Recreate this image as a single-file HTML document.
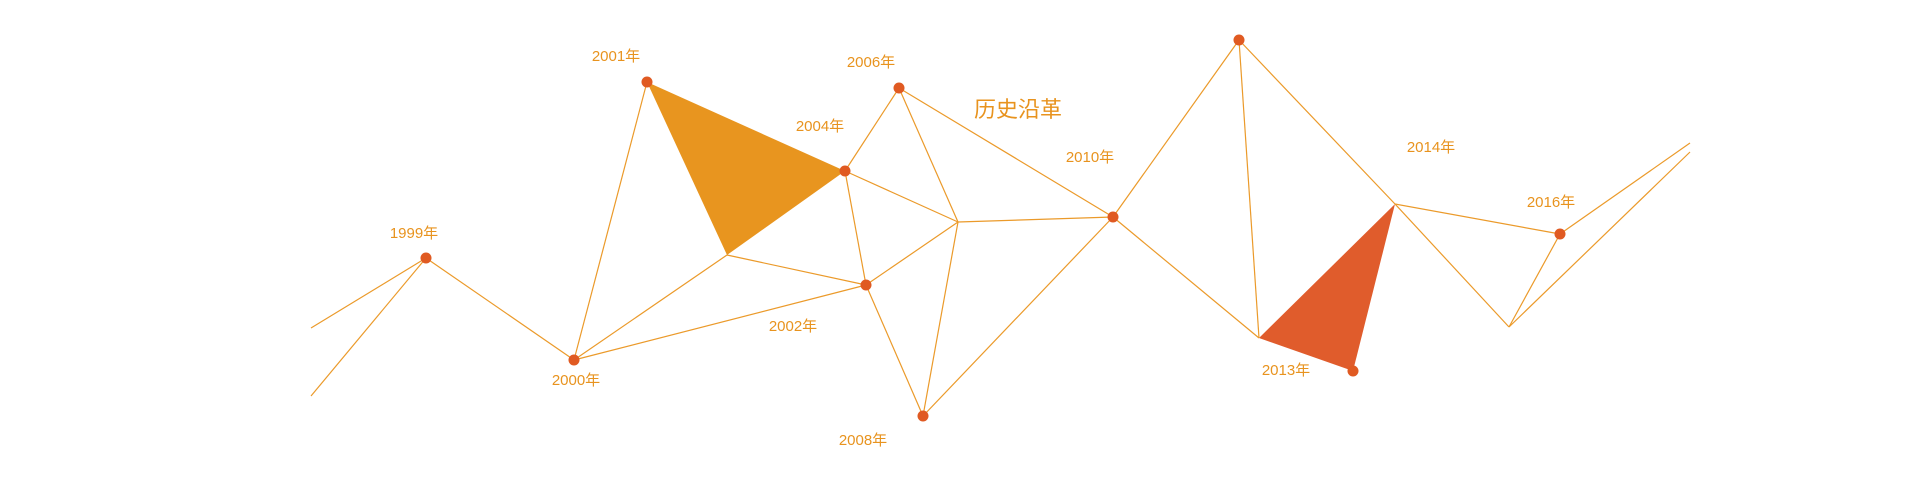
<!DOCTYPE html>
<html><head><meta charset="utf-8"><style>
html,body{margin:0;padding:0;background:#fff;}
svg{display:block}
text{font-family:"Liberation Sans","Noto Sans CJK SC",sans-serif;fill:#e8931e;}
</style></head><body>
<svg width="1920" height="491" viewBox="0 0 1920 491" xmlns="http://www.w3.org/2000/svg">
<polygon points="647,82 845,171 727,255" fill="#e8951f"/>
<polygon points="1259,338 1395,204 1353,371" fill="#e05c2c"/>
<g stroke="#eb9a2a" stroke-width="1.2" fill="none">
<line x1="311" y1="328" x2="426" y2="258"/>
<line x1="311" y1="396" x2="426" y2="258"/>
<line x1="426" y1="258" x2="574" y2="360"/>
<line x1="574" y1="360" x2="647" y2="82"/>
<line x1="574" y1="360" x2="727" y2="255"/>
<line x1="574" y1="360" x2="866" y2="285"/>
<line x1="727" y1="255" x2="866" y2="285"/>
<line x1="845" y1="171" x2="866" y2="285"/>
<line x1="845" y1="171" x2="958" y2="222"/>
<line x1="845" y1="171" x2="899" y2="88"/>
<line x1="899" y1="88" x2="958" y2="222"/>
<line x1="899" y1="88" x2="1113" y2="217"/>
<line x1="958" y1="222" x2="866" y2="285"/>
<line x1="958" y1="222" x2="923" y2="416"/>
<line x1="958" y1="222" x2="1113" y2="217"/>
<line x1="866" y1="285" x2="923" y2="416"/>
<line x1="923" y1="416" x2="1113" y2="217"/>
<line x1="1113" y1="217" x2="1239" y2="40"/>
<line x1="1113" y1="217" x2="1259" y2="338"/>
<line x1="1239" y1="40" x2="1259" y2="338"/>
<line x1="1239" y1="40" x2="1395" y2="204"/>
<line x1="1395" y1="204" x2="1560" y2="234"/>
<line x1="1395" y1="204" x2="1509" y2="327"/>
<line x1="1560" y1="234" x2="1509" y2="327"/>
<line x1="1560" y1="234" x2="1690" y2="143"/>
<line x1="1509" y1="327" x2="1690" y2="152"/>
</g>
<g fill="#e05a22">
<circle cx="426" cy="258" r="5.5"/>
<circle cx="574" cy="360" r="5.5"/>
<circle cx="647" cy="82" r="5.5"/>
<circle cx="845" cy="171" r="5.5"/>
<circle cx="866" cy="285" r="5.5"/>
<circle cx="899" cy="88" r="5.5"/>
<circle cx="923" cy="416" r="5.5"/>
<circle cx="1113" cy="217" r="5.5"/>
<circle cx="1239" cy="40" r="5.5"/>
<circle cx="1353" cy="371" r="5.5"/>
<circle cx="1560" cy="234" r="5.5"/>
</g>
<g font-size="15" text-anchor="middle">
<text x="414" y="238">1999年</text>
<text x="576" y="385">2000年</text>
<text x="616" y="61">2001年</text>
<text x="820" y="131">2004年</text>
<text x="871" y="67">2006年</text>
<text x="793" y="331">2002年</text>
<text x="863" y="445">2008年</text>
<text x="1090" y="162">2010年</text>
<text x="1431" y="152">2014年</text>
<text x="1551" y="207">2016年</text>
<text x="1286" y="375">2013年</text>
</g>
<text x="1018" y="117" font-size="22" text-anchor="middle">历史沿革</text>
</svg>
</body></html>
